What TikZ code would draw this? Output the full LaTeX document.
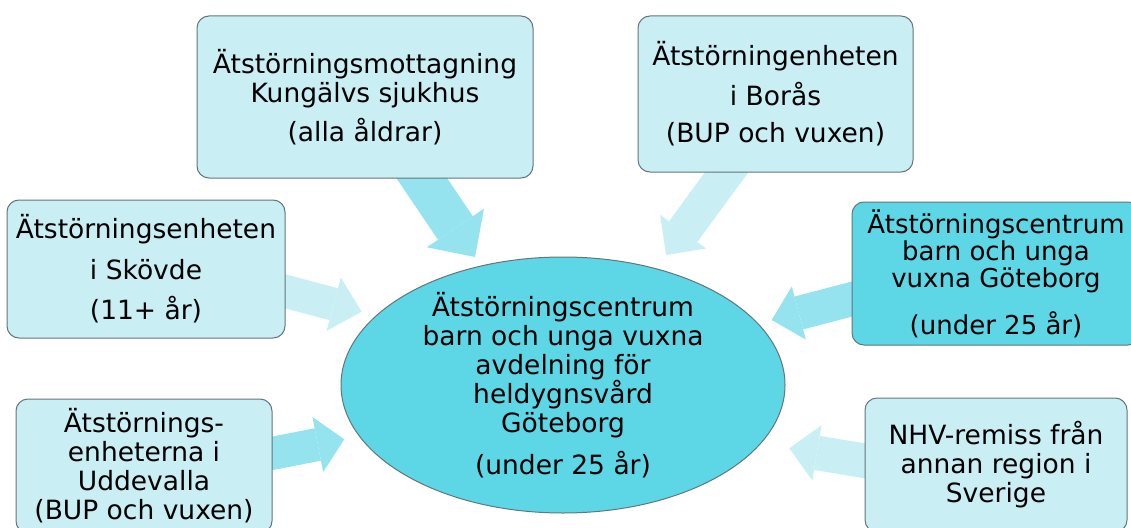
\documentclass[tikz,border=0pt]{standalone}
\usepackage{fontspec}
\setmainfont{DejaVu Sans}
\usetikzlibrary{arrows.meta,calc,shapes.geometric}
\pgfdeclarelayer{bg}
\pgfsetlayers{bg,main}
\definecolor{lightfill}{HTML}{C9EEF4}
\definecolor{darkfill}{HTML}{5DD6E6}
\definecolor{arrowmid}{HTML}{95E3EE}
\definecolor{arrowlight}{HTML}{C9EFF5}
\definecolor{edgegray}{HTML}{62767B}
\tikzset{
  box/.style={draw=edgegray, line width=1pt, rounded corners=12pt, fill=lightfill,
    align=center, inner sep=0pt, font=\fontsize{26.5}{29}\selectfont},
  darkbox/.style={box, fill=darkfill},
  hub/.style={ellipse, draw=edgegray, line width=1pt, fill=darkfill, align=center,
    inner xsep=0pt, inner ysep=-40pt, font=\fontsize{26.5}{29}\selectfont},
  flow/.style n args={3}{line width=#1,
    -{Triangle[length=#3,width=#2,line width=0pt]}},
  flowmid/.style={draw=arrowmid},
  flowlight/.style={draw=arrowlight},
}
\begin{document}
\begin{tikzpicture}[x=1pt,y=-1pt]
\useasboundingbox (0,0) rectangle (1131,527);
\clip (0,0) rectangle (1131,527);

\node[box, minimum width=336pt, minimum height=162pt] (kung) at (365,97)
  {Ätstörningsmottagning\\Kungälvs sjukhus\\[10pt](alla åldrar)};
\node[box, minimum width=275pt, minimum height=156pt] (boras) at (775.5,94)
  {Ätstörningenheten\\[11pt]i Borås\\[8pt](BUP och vuxen)};
\node[box, minimum width=278pt, minimum height=138pt] (skovde) at (146,269)
  {Ätstörningsenheten\\[12pt]i Skövde\\[11pt](11+ år)};
\node[darkbox, minimum width=288pt, minimum height=143pt,
  font=\fontsize{26}{27}\selectfont] (centrum) at (996,273.5)
  {Ätstörningscentrum\\barn och unga\\vuxna Göteborg\\[18pt](under 25 år)};
\node[box, minimum width=256pt, minimum height=134pt] (udde) at (144,466)
  {Ätstörnings-\\enheterna i\\Uddevalla\\(BUP och vuxen)};
\node[box, minimum width=262pt, minimum height=134pt] (nhv) at (996,465)
  {NHV-remiss från\\annan region i\\Sverige};
\node[hub, minimum width=444pt, minimum height=256pt] (hub) at (563,385)
  {Ätstörningscentrum\\barn och unga vuxna\\avdelning för\\heldygnsvård\\Göteborg\\[13pt](under 25 år)};

% arrow start points on the box edges and free tips near the hub
\coordinate (kS) at ($(kung.south)+(57,0)$);
\coordinate (kT) at (475,257);
\coordinate (bS) at ($(boras.south)+(-49,0)$);
\coordinate (bT) at (666,255);
\coordinate (sS) at ($(skovde.east)+(0,22.3)$);
\coordinate (sT) at (361.7,311.7);
\coordinate (uS) at ($(udde.east)+(0,-12.7)$);
\coordinate (uT) at (344.3,439.3);
\coordinate (cS) at ($(centrum.west)+(0,25.7)$);
\coordinate (cT) at (771.7,320);
\coordinate (nS) at ($(nhv.west)+(0,-4.2)$);
\coordinate (nT) at (789.3,448.3);

\begin{pgfonlayer}{bg}
\draw[flowmid, flow={42pt}{69pt}{35pt}] ($(kT)!1.25!(kS)$) -- (kT);
\draw[flowlight, flow={35pt}{57pt}{29pt}] ($(bT)!1.25!(bS)$) -- (bT);
\draw[flowlight, flow={33pt}{55pt}{29pt}] ($(sT)!1.25!(sS)$) -- (sT);
\draw[flowmid, flow={33pt}{56pt}{27pt}] ($(uT)!1.25!(uS)$) -- (uT);
\draw[flowmid, flow={34pt}{55pt}{28pt}] ($(cT)!1.25!(cS)$) -- (cT);
\draw[flowlight, flow={34.5pt}{56pt}{28pt}] ($(nT)!1.25!(nS)$) -- (nT);
\end{pgfonlayer}
\end{tikzpicture}
\end{document}
